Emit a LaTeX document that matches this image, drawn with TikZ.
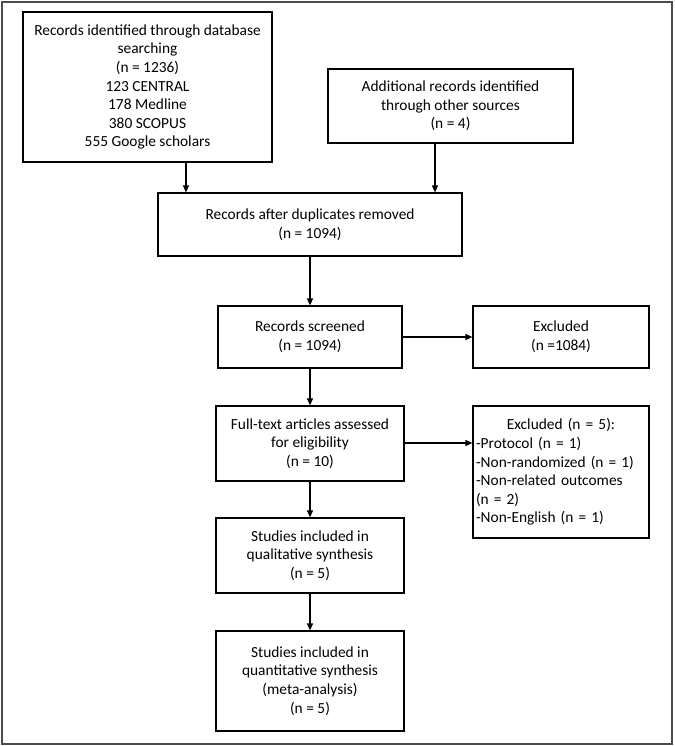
\documentclass[tikz,border=0pt]{standalone}
\usepackage{fontspec}
\setmainfont{Carlito}
\usetikzlibrary{arrows.meta,positioning}

\tikzset{
  box/.style={draw=black, line width=1.2pt, inner sep=0pt, align=center,
    font=\fontsize{15.4}{18.6}\selectfont},
  arr/.style={line width=1.2pt, -{Triangle[length=7pt,width=6pt]}}
}

\begin{document}
\begin{tikzpicture}[x=1pt,y=-1pt]
			\useasboundingbox (0,0) rectangle (674,746);
			\draw[line width=2pt, draw=black!70] (2,2) rectangle (672,744);
			% identification
			\node[box, minimum width=249pt, minimum height=150pt] (rec) at (147.5,87) {Records identified through database\\searching\\(n = 1236)\\123 CENTRAL\\178 Medline\\380 SCOPUS\\555 Google scholars};
			\node[box, minimum width=245pt, minimum height=74pt] (add) at (450.5,106) {Additional records identified\\through other sources\\(n = 4)};
			\node[box, minimum width=304pt, minimum height=63pt] (dup) at (310,224.5) {Records after duplicates removed\\(n = 1094)};
			% screening
			\node[box, minimum width=184pt, minimum height=62pt] (scr) at (310,337) {Records screened\\(n = 1094)};
			\node[box, minimum width=176pt, minimum height=62pt] (exc) at (561,337) {Excluded\\(n =1084)};
			\node[box, minimum width=188pt, minimum height=75pt] (full) at (310,443.5) {Full-text articles assessed\\for eligibility\\(n = 10)};
			\node[box, minimum width=176pt, minimum height=132pt, text width=170pt, align=left] (exctwo) at (561,472) {\makebox[170pt]{Excluded (n = 5):}\\-Protocol (n = 1)\\-Non-randomized (n = 1)\\-Non-related outcomes\\(n = 2)\\-Non-English (n = 1)};
			% included
			\node[box, minimum width=188pt, minimum height=75pt] (qual) at (310,555.5) {Studies included in\\qualitative synthesis\\(n = 5)};
			\node[box, minimum width=188pt, minimum height=100pt] (quan) at (310,681) {Studies included in\\quantitative synthesis\\(meta-analysis)\\(n = 5)};
			\draw[arr] ([xshift=38.5pt]rec.south) -- ([xshift=38.5pt]rec.south |- dup.north);
			\draw[arr] ([xshift=-15.5pt]add.south) -- ([xshift=-15.5pt]add.south |- dup.north);
			\draw[arr] (dup) -- (scr);
			\draw[arr] (scr) -- (exc);
			\draw[arr] (scr) -- (full);
			\draw[arr] ([yshift=0.5pt]full.east) -- ([yshift=0.5pt]full.east -| exctwo.west);
			\draw[arr] (full) -- (qual);
			\draw[arr] (qual) -- (quan);
		\end{tikzpicture}
\end{document}
